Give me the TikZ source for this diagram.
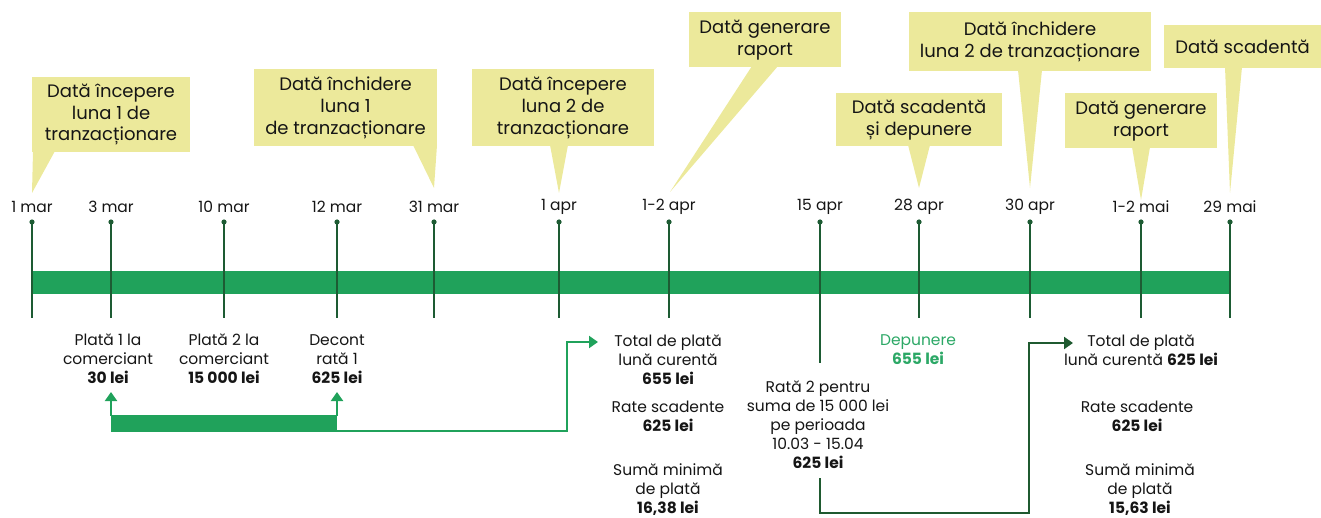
\documentclass[tikz,border=0pt]{standalone}
\usepackage{fontspec}
\setmainfont{Poppins}
\usetikzlibrary{arrows.meta}
\definecolor{cy}{HTML}{ECE99B}
\definecolor{barg}{HTML}{20A25B}
\definecolor{tickg}{HTML}{1D5B33}
\definecolor{darkl}{HTML}{1F5A30}
\definecolor{txt}{HTML}{151515}
\definecolor{depg}{HTML}{2CA866}
\begin{document}
\begin{tikzpicture}[x=1pt,y=-1pt,
  callout/.style={fill=cy, inner sep=0pt, align=center, text=txt, font=\fontsize{18}{21.7}\selectfont},
  datelbl/.style={font=\fontsize{15.5}{18}\selectfont, text=txt},
  tickline/.style={draw=tickg, line width=2pt},
  lbl/.style={align=center, text=txt, font=\fontsize{15.5}{19}\selectfont},
  garr/.style={draw=barg, line width=2pt, -{Triangle[width=12pt,length=9pt]}},
  darr/.style={draw=darkl, line width=2.2pt, -{Triangle[width=12pt,length=9pt]}},
]
\useasboundingbox (0,0) rectangle (1321,518);

% callouts
\node[callout, minimum width=158, minimum height=75] (c1) at (111,114.5) {Dată începere\\luna 1 de\\tranzacționare};
\fill[cy] (33,151) -- (55,151) -- (32,193) -- cycle;
\node[callout, minimum width=183, minimum height=77] (c2) at (345.5,108) {Dată închidere\\luna 1\\de tranzacționare};
\fill[cy] (413,145) -- (437,145) -- (434,188) -- cycle;
\node[callout, minimum width=182, minimum height=77] (c3) at (563,108) {Dată începere\\luna 2 de\\tranzacționare};
\fill[cy] (550,145) -- (568,145) -- (559,193) -- cycle;
\node[callout, minimum width=152, minimum height=55] (c4) at (765,40) {Dată generare\\raport};
\fill[cy] (752,66) -- (778,66) -- (670,192) -- cycle;
\node[callout, minimum width=166, minimum height=53] (c5) at (919,120) {Dată scadentă\\și depunere};
\fill[cy] (908,145) -- (930,145) -- (919,188) -- cycle;
\node[callout, minimum width=242, minimum height=59] (c6) at (1030,42) {Dată închidere\\luna 2 de tranzacționare};
\fill[cy] (1018,70) -- (1042,70) -- (1030,188) -- cycle;
\node[callout, minimum width=152, minimum height=55] (c7) at (1141,121) {Dată generare\\raport};
\fill[cy] (1132,147) -- (1150,147) -- (1141,200) -- cycle;
\node[callout, minimum width=157, minimum height=43] (c8) at (1242.5,46.5) {Dată scadentă};
\fill[cy] (1225,67) -- (1242,67) -- (1230,193) -- cycle;

% bar
\fill[barg] (32,271) rectangle (1230,294);

% dates and ticks
\foreach \x/\lab/\n in {32/1 mar/a, 111/3 mar/b, 224/10 mar/c, 337/12 mar/d, 434/31 mar/e, 559/1 apr/f, 669/1-2 apr/g, 820/15 apr/h, 919/28 apr/i, 1030/30 apr/j, 1141/1-2 mai/k, 1230/29 mai/l}{
  \node[datelbl] (d\n) at (\x,207) {\lab};
  \coordinate (t\n) at (\x,222);
}
\foreach \n in {a,b,c,d,e,f,g,i,j,k,l}{
  \draw[tickline] (t\n) -- ++(0,96);
  \fill[tickg] (t\n) circle (2.6pt);
}
\draw[tickline] (th) -- ++(0,141);
\fill[tickg] (th) circle (2.6pt);

% bottom labels
\node[lbl] (p1) at (108,359) {Plată 1 la\\comerciant\\\textbf{30 lei}};
\node[lbl] (p2) at (224,359) {Plată 2 la\\comerciant\\\textbf{15 000 lei}};
\node[lbl] (dc) at (337,359) {Decont\\rată 1\\\textbf{625 lei}};
\node[lbl] (tp1) at (668,360) {Total de plată\\lună curentă\\\textbf{655 lei}};
\node[lbl] (rs1) at (668,416.5) {Rate scadente\\\textbf{625 lei}};
\node[lbl] (sm1) at (668,490) {Sumă minimă\\de plată\\\textbf{16,38 lei}};
\node[lbl] (r2) at (818,425) {Rată 2 pentru\\suma de 15 000 lei\\pe perioada\\10.03 - 15.04\\\textbf{625 lei}};
\node[lbl, text=depg] (dep) at (918,350) {Depunere\\\textbf{655 lei}};
\node[lbl] (tp2) at (1141,350) {Total de plată\\lună curentă \textbf{625 lei}};
\node[lbl] (rs2) at (1137,416.5) {Rate scadente\\\textbf{625 lei}};
\node[lbl] (sm2) at (1140,490) {Sumă minimă\\de plată\\\textbf{15,63 lei}};

% connectors
\coordinate (a1) at (111,392);
\coordinate (a2) at (337,392);
\coordinate (a3) at (598,342);
\coordinate (a4) at (1073,343);
\fill[barg] (111,415) rectangle (337,432);
\draw[garr] (111,416) -- (a1);
\draw[garr] (337,416) -- (a2);
\draw[garr] (337,431) -- (567,431) -- (567,342) -- (a3);
\draw[darr] (820,478) -- (820,513) -- (1029,513) -- (1029,343) -- (a4);
\end{tikzpicture}
\end{document}
